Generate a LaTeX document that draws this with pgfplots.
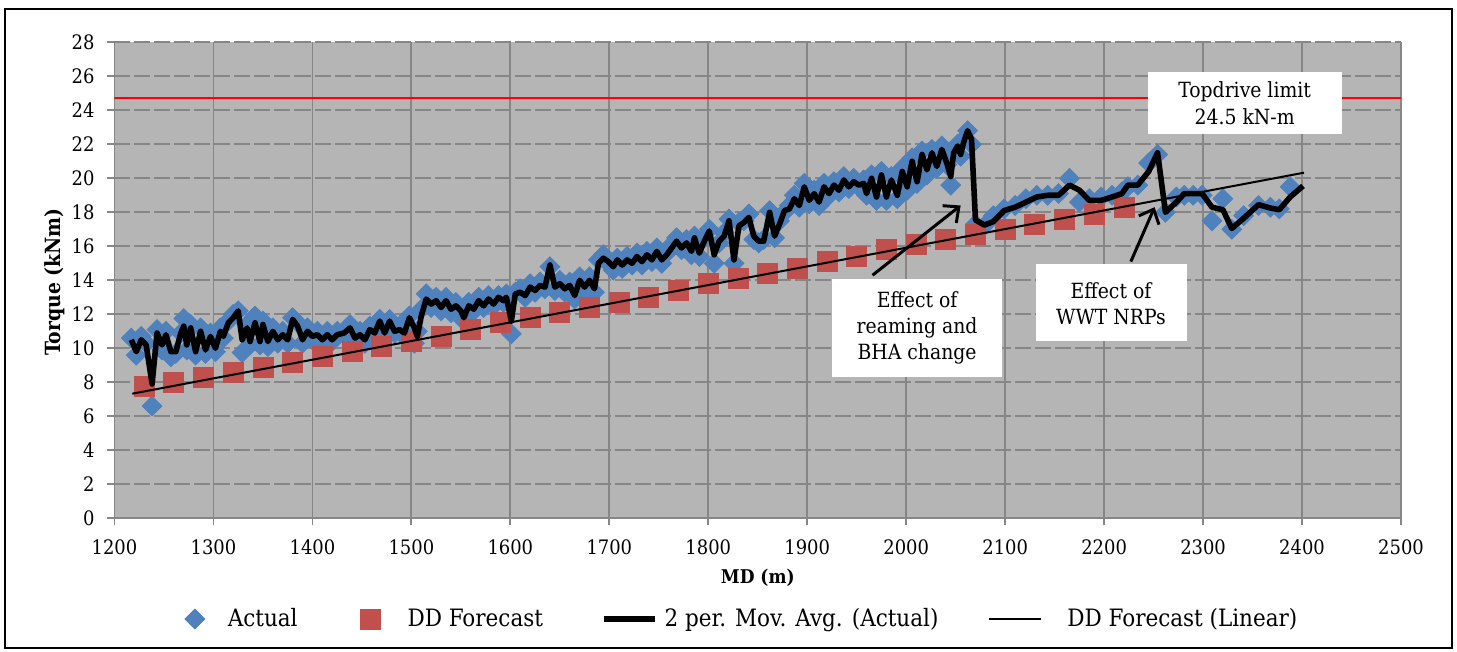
\documentclass[border=0pt]{standalone}
\usepackage{pgfplots}
\pgfplotsset{compat=1.18}
\usepackage{pgfplotstable}
\usepackage{fontspec}
\setmainfont{DejaVu Serif Condensed}
\usetikzlibrary{arrows.meta}

\definecolor{plotbg}{RGB}{181,181,181}
\definecolor{gridc}{RGB}{134,134,134}
\definecolor{actblue}{RGB}{79,129,189}
\definecolor{ddred}{RGB}{192,80,77}

\pgfplotsset{
    ptlegend/.style={legend image code/.code={\draw[##1] plot coordinates {(5bp,0bp)};}},
    lnlegend/.style={legend image code/.code={\draw[##1] (0bp,0bp) -- (#1,0bp);}},
}

% measured torque (kNm) vs MD (m)
\pgfplotstableread{
md torque
1217 10.6
1222 9.6
1227 10.7
1232 10.3
1238 6.6
1243 11.1
1248 9.9
1252 11.0
1257 9.5
1262 9.7
1267 10.9
1270 11.75
1273 9.9
1277 11.4
1282 9.6
1287 11.2
1292 9.7
1297 10.9
1302 9.8
1307 11.2
1310 10.6
1315 11.6
1320 12.0
1325 12.2
1329 9.75
1334 11.4
1337 10.2
1342 11.9
1347 10.2
1350 11.6
1355 10.1
1360 11.2
1365 10.3
1370 11.0
1375 10.3
1380 11.8
1385 11.5
1390 10.3
1395 11.2
1400 10.5
1405 11.0
1410 10.3
1415 11.0
1420 10.4
1425 11.0
1432 10.8
1438 11.4
1443 10.4
1448 11.0
1453 10.3
1458 11.3
1463 10.8
1468 11.7
1473 10.7
1478 11.7
1483 10.9
1488 11.3
1493 10.7
1498 11.9
1503 10.3
1506 11.0
1510 12.3
1515 13.2
1520 12.4
1525 13.0
1530 12.2
1535 13.0
1540 12.1
1545 12.7
1550 12.1
1553 11.6
1558 12.7
1563 12.2
1568 13.0
1573 12.4
1578 13.1
1583 12.5
1588 13.1
1593 12.7
1596 13.2
1601 10.85
1605 13.3
1610 13.5
1615 13.0
1620 13.8
1625 13.3
1630 13.9
1635 13.5
1640 14.8
1645 13.4
1650 14.0
1655 13.3
1660 13.9
1665 12.9
1670 14.2
1675 13.4
1680 14.2
1685 13.3
1689 15.2
1694 15.5
1699 15.0
1704 14.6
1708 15.3
1713 14.7
1718 15.4
1723 14.9
1728 15.6
1733 14.9
1738 15.7
1743 15.1
1748 15.9
1753 15.0
1758 15.6
1763 16.1
1768 16.5
1773 15.8
1778 16.4
1783 15.5
1786 16.6
1791 15.4
1796 16.5
1801 17.0
1806 15.0
1811 16.2
1816 16.8
1821 17.6
1826 15.0
1831 17.4
1836 17.5
1841 17.9
1846 16.4
1851 16.2
1856 16.4
1862 18.1
1867 16.5
1872 17.5
1877 18.0
1882 18.4
1887 19.0
1892 18.3
1897 19.7
1902 18.5
1907 19.3
1912 18.4
1917 19.7
1922 19.0
1927 19.8
1932 19.2
1937 20.1
1942 19.4
1947 20.0
1952 19.5
1957 19.9
1960 19.0
1965 20.2
1970 18.7
1975 20.4
1980 18.7
1985 20.1
1991 18.8
1996 20.6
2001 19.3
2006 21.2
2011 19.7
2016 21.6
2021 20.2
2026 21.7
2031 20.6
2036 21.9
2041 20.8
2045 19.6
2048 21.5
2052 22.0
2055 21.3
2058 22.3
2062 22.8
2066 22.0
2070 17.3
2079 17.2
2088 17.8
2099 18.2
2110 18.4
2121 18.8
2132 19.0
2143 19.0
2154 19.1
2165 20.0
2175 18.6
2185 18.8
2197 18.9
2208 19.0
2218 19.2
2224 19.5
2234 19.6
2245 20.9
2254 21.4
2262 18.0
2273 18.9
2281 19.0
2290 19.0
2299 19.0
2309 17.5
2320 18.8
2329 17.0
2341 17.8
2356 18.4
2368 18.3
2377 18.2
2388 19.5
}\actual

% 2 period moving average of the measured torque
\pgfplotstableread{
md avg
1217 10.5
1222 9.8
1227 10.5
1232 10.2
1238 7.9
1243 10.9
1248 10.2
1252 10.8
1257 9.8
1262 9.8
1267 10.9
1270 11.3
1273 10.2
1277 11.2
1282 9.8
1287 11.0
1292 9.9
1297 10.7
1302 10.0
1307 11.0
1310 10.7
1315 11.5
1320 11.8
1325 12.2
1329 10.5
1334 11.2
1337 10.4
1342 11.5
1347 10.4
1350 11.4
1355 10.4
1360 11.0
1365 10.5
1370 10.8
1375 10.5
1380 11.7
1385 11.3
1390 10.5
1395 11.0
1400 10.7
1405 10.8
1410 10.5
1415 10.8
1420 10.5
1425 10.8
1432 10.9
1438 11.2
1443 10.6
1448 10.8
1453 10.5
1458 11.1
1463 10.9
1468 11.6
1473 10.9
1478 11.6
1483 11.0
1488 11.1
1493 10.9
1498 11.8
1503 11.2
1506 10.7
1510 11.9
1515 12.9
1520 12.6
1525 12.8
1530 12.4
1535 12.8
1540 12.3
1545 12.5
1550 12.2
1553 11.8
1558 12.5
1563 12.3
1568 12.8
1573 12.5
1578 12.9
1583 12.6
1588 13.0
1593 12.8
1596 13.0
1601 11.6
1605 13.2
1610 13.3
1615 13.1
1620 13.6
1625 13.4
1630 13.7
1635 13.6
1640 14.9
1645 13.6
1650 13.8
1655 13.5
1660 13.7
1665 13.1
1670 14.0
1675 13.6
1680 14.0
1685 13.5
1689 15.0
1694 15.3
1699 15.1
1704 14.8
1708 15.2
1713 14.9
1718 15.2
1723 15.0
1728 15.4
1733 15.1
1738 15.5
1743 15.2
1748 15.7
1753 15.2
1758 15.5
1763 15.9
1768 16.3
1773 15.9
1778 16.2
1783 15.7
1786 16.5
1791 15.6
1796 16.3
1801 16.9
1806 15.5
1811 16.3
1816 16.6
1821 17.5
1826 15.2
1831 17.2
1836 17.4
1841 17.7
1846 16.6
1851 16.3
1856 16.3
1862 18.0
1867 16.6
1872 17.3
1877 18.1
1882 18.2
1887 18.8
1892 18.4
1897 19.5
1902 18.7
1907 19.1
1912 18.6
1917 19.5
1922 19.1
1927 19.6
1932 19.3
1937 19.9
1942 19.5
1947 19.8
1952 19.6
1957 19.7
1960 19.1
1965 20.0
1970 18.9
1975 20.2
1980 18.9
1985 19.9
1991 19.0
1996 20.4
2001 19.5
2006 21.0
2011 19.8
2016 21.4
2021 20.5
2026 21.5
2031 20.7
2036 21.7
2041 20.9
2045 20.1
2048 21.5
2052 21.9
2055 21.4
2058 22.1
2062 22.8
2066 22.3
2070 17.55
2079 17.25
2088 17.45
2099 18.1
2110 18.3
2121 18.6
2132 18.9
2143 19.0
2154 19.0
2165 19.6
2175 19.3
2185 18.7
2197 18.7
2208 18.9
2218 19.1
2224 19.6
2234 19.6
2245 20.4
2254 21.5
2262 18.0
2273 18.6
2281 19.1
2299 19.1
2309 18.3
2320 18.15
2329 17.05
2341 17.65
2356 18.45
2368 18.25
2377 18.15
2388 18.9
2401 19.55
}\movavg

\begin{document}
\begin{tikzpicture}
\path (-57.25bp,-66.85bp) rectangle (671.25bp,259.15bp);
\begin{axis}[
    at={(0,0)}, anchor=south west,
    scale only axis,
    width=643.25bp, height=238bp,
    xmin=1200, xmax=2500, ymin=0, ymax=28,
    xtick distance=100, ytick distance=2,
    clip marker paths=true,
    axis x line*=bottom, axis y line*=left,
    axis line style={gridc, line width=0.9bp},
    axis background/.style={fill=plotbg},
    grid=major,
    x grid style={gridc, line width=0.9bp},
    y grid style={gridc, line width=0.9bp, dash pattern=on 8bp off 2bp},
    tick align=outside,
    major tick length=3.5bp,
    tick style={gridc, line width=0.9bp},
    ticklabel style={font=\fontsize{10}{12}\selectfont},
    xticklabel style={yshift=-3.5bp},
    yticklabel style={xshift=-3bp},
    /pgf/number format/assume math mode=true,
    /pgf/number format/set thousands separator={},
    xlabel={MD (m)},
    ylabel={Torque (kNm)},
    every axis x label/.style={at={(axis description cs:0.5,-0.1254)}, anchor=center,
        font=\fontsize{9.5}{11}\selectfont\bfseries},
    every axis y label/.style={at={(axis description cs:-0.04625,0.496)}, rotate=90, anchor=center,
        font=\fontsize{10.5}{12}\selectfont\bfseries},
    legend columns=4,
    legend style={
        at={(axis description cs:0.0548,-0.2116)}, anchor=west,
        draw=none, fill=none, inner sep=0pt, outer sep=0pt,
        font=\fontsize{12}{14}\selectfont,
        nodes={inner sep=0pt},
        column sep=0pt,
        /tikz/column 1/.style={column sep=11.5bp},
        /tikz/column 2/.style={column sep=31.5bp},
        /tikz/column 3/.style={column sep=13.5bp},
        /tikz/column 4/.style={column sep=29bp},
        /tikz/column 5/.style={column sep=3.5bp},
        /tikz/column 6/.style={column sep=25bp},
        /tikz/column 7/.style={column sep=12.5bp},
    },
]
\addplot [red, line width=1bp, forget plot] coordinates {(1200,24.75) (2500,24.75)};

\addplot [only marks, mark=square*, mark size=3.5bp, color=actblue,
    mark options={rotate=45}, ptlegend]
    table [x=md, y=torque] {\actual};
\addlegendentry{Actual}

\addplot [only marks, mark=square*, mark size=5bp, color=ddred, ptlegend]
    coordinates {
    (1230,7.75) (1260,8.0) (1290,8.3) (1320,8.6) (1350,8.9) (1380,9.2)
    (1410,9.5) (1440,9.8) (1470,10.1) (1500,10.4) (1530,10.7) (1560,11.1)
    (1590,11.5) (1620,11.8) (1650,12.1) (1680,12.4) (1710,12.7) (1740,13.0)
    (1770,13.4) (1800,13.8) (1830,14.1) (1860,14.4) (1890,14.7) (1920,15.1)
    (1950,15.4) (1980,15.8) (2010,16.1) (2040,16.4) (2070,16.7) (2100,17.0)
    (2130,17.3) (2160,17.6) (2190,17.9) (2220,18.3)
};
\addlegendentry{DD Forecast}

\addplot [black, line width=2.8bp, line join=round, no marks, lnlegend=25.5bp]
    table [x=md, y=avg] {\movavg};
\addlegendentry{2 per. Mov. Avg. (Actual)}

\addplot [black, line width=1bp, no marks, lnlegend=26bp]
    coordinates {(1218,7.33) (2402,20.33)};
\addlegendentry{DD Forecast (Linear)}

% annotation boxes
\fill[white] (axis cs:2244,22.6) rectangle (axis cs:2440,26.25);
\node[align=center, inner sep=0pt, font=\fontsize{10.5}{13.5}\selectfont]
    at (axis cs:2342,24.4) {Topdrive limit\\24.5 kN-m};
\fill[white] (axis cs:1925,8.3) rectangle (axis cs:2097,14.1);
\node[align=center, inner sep=0pt, font=\fontsize{10.5}{13}\selectfont]
    at (axis cs:2011,11.2) {Effect of\\reaming and\\BHA change};
\fill[white] (axis cs:2131,10.45) rectangle (axis cs:2284,14.95);
\node[align=center, inner sep=0pt, font=\fontsize{10.5}{13}\selectfont]
    at (axis cs:2207,12.6) {Effect of\\WWT NRPs};

\draw[line width=1.5bp, -{Straight Barb[length=6bp,width=11bp]}]
    (axis cs:1966,14.3) -- (axis cs:2055,18.4);
\draw[line width=1.5bp, -{Straight Barb[length=6bp,width=11bp]}]
    (axis cs:2227,15.1) -- (axis cs:2251,18.3);
\end{axis}
\draw[line width=1bp] (-54.75bp,-64.85bp) rectangle (668.75bp,254.65bp);
\end{tikzpicture}
\end{document}
